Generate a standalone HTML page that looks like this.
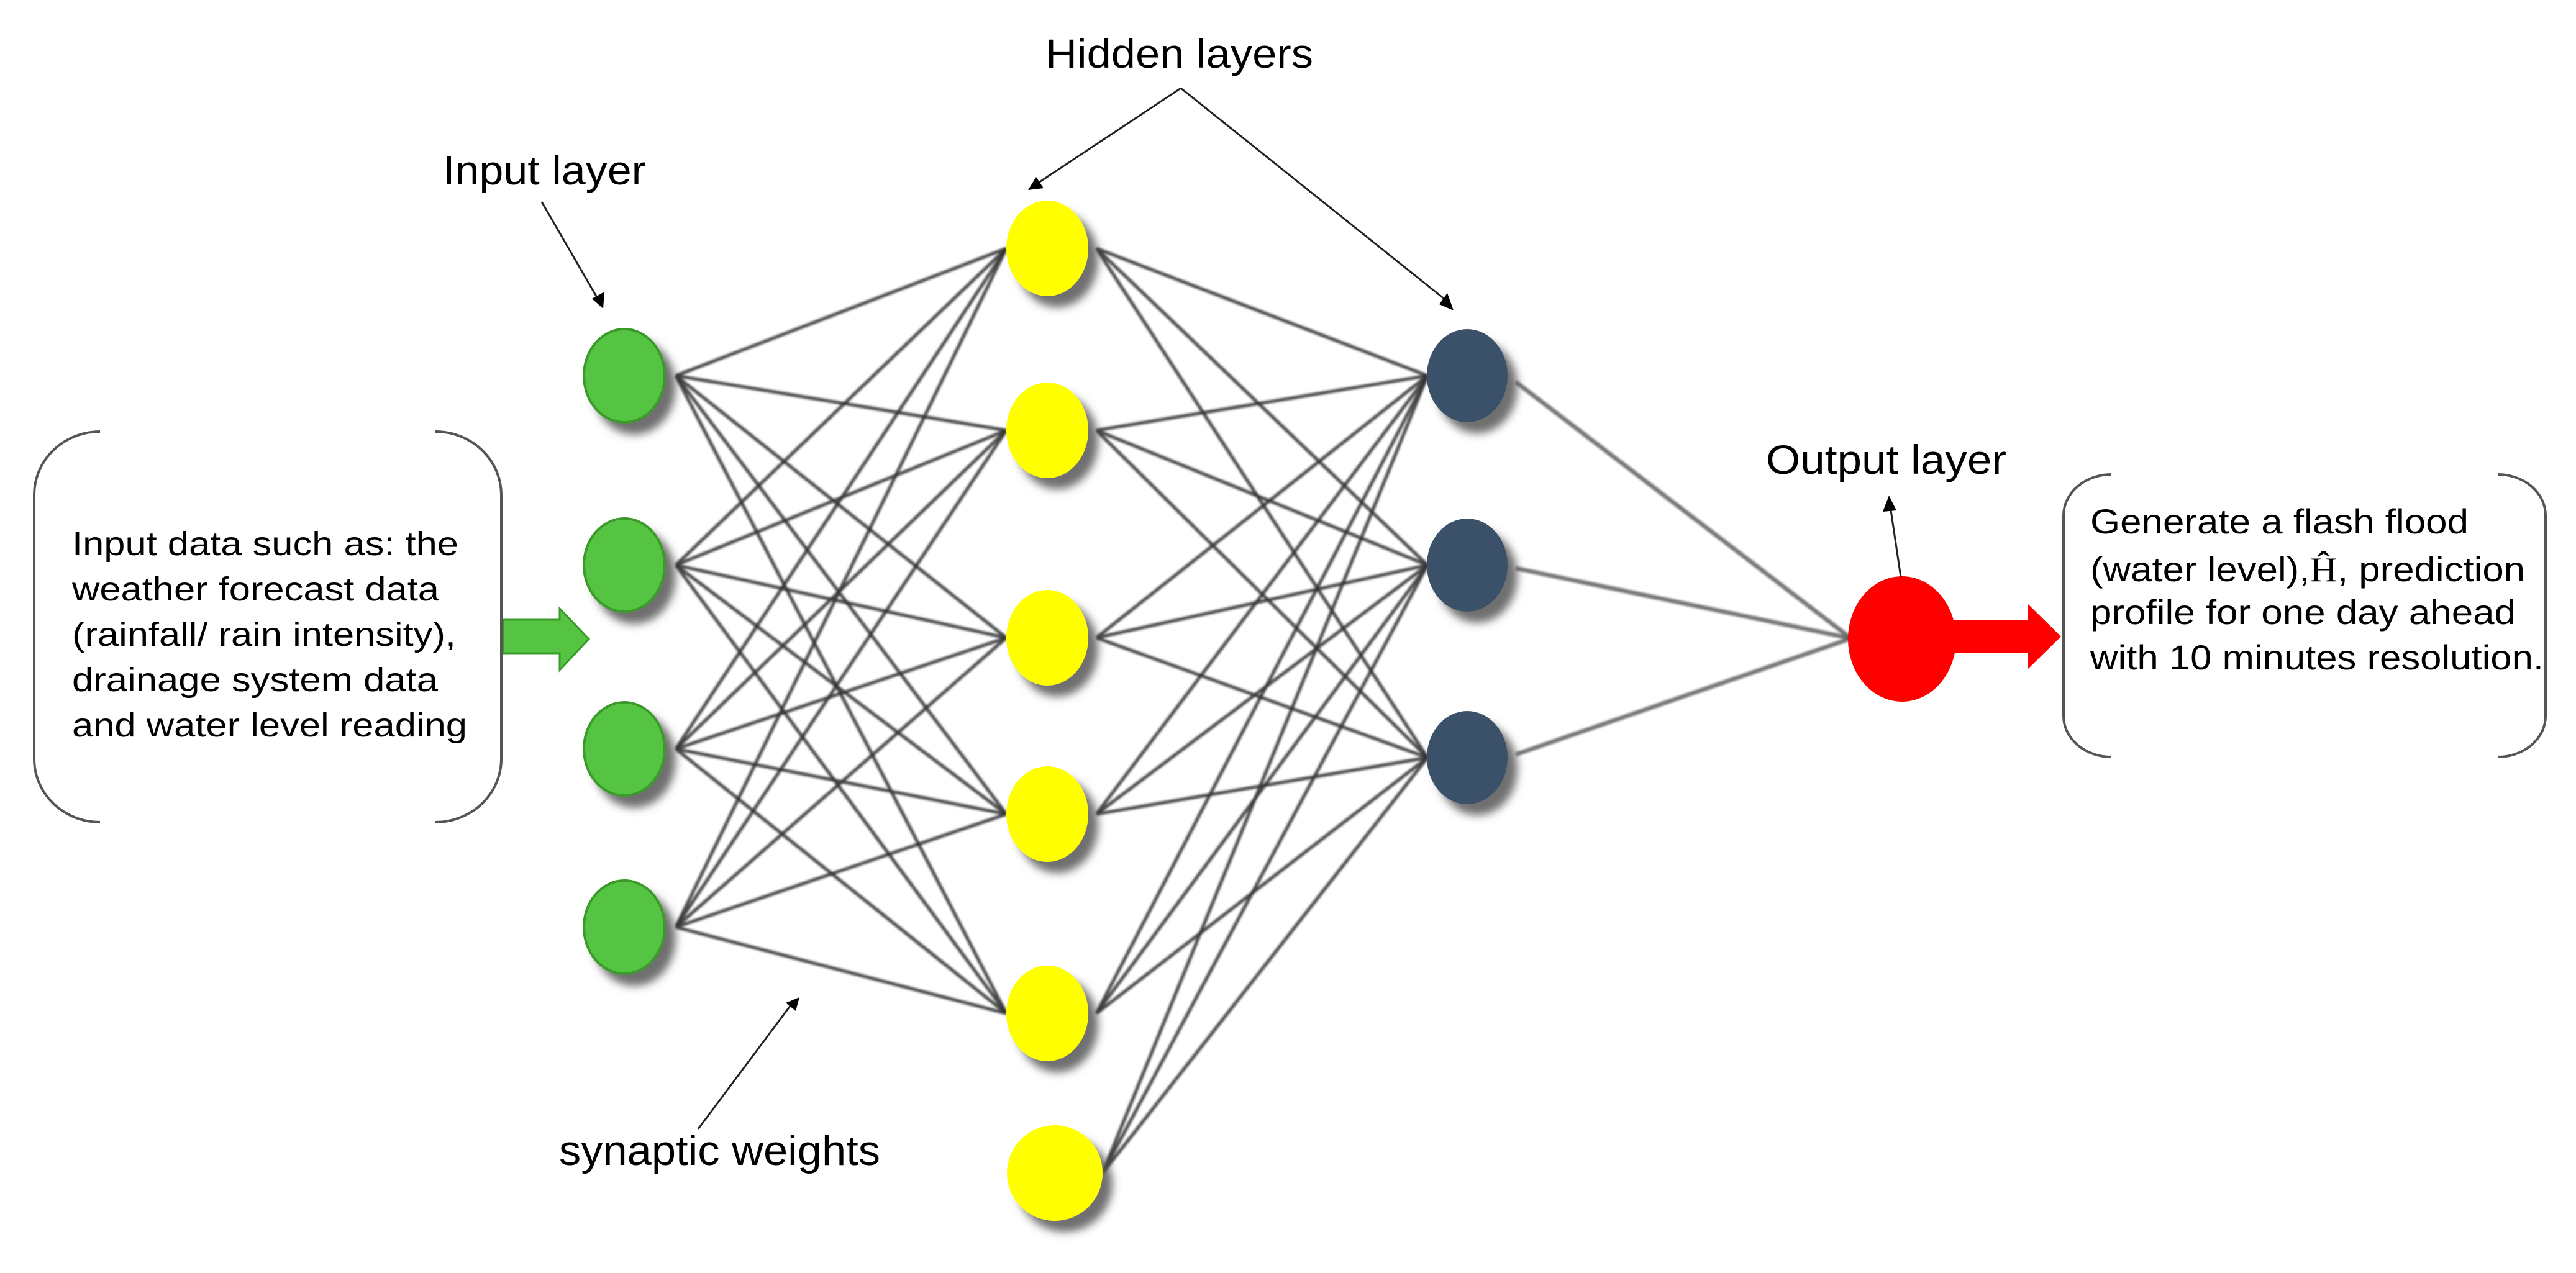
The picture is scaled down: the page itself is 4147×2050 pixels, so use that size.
<!DOCTYPE html>
<html><head><meta charset="utf-8"><style>
html,body{margin:0;padding:0;background:#fff;}
svg{display:block;}
text{font-family:"Liberation Sans",Arial,sans-serif;fill:#000;}
</style></head><body>
<svg width="4147" height="2050" viewBox="0 0 4147 2050" xmlns="http://www.w3.org/2000/svg">
<defs>
<filter id="sh" x="-50%" y="-50%" width="200%" height="200%">
<feDropShadow dx="16" dy="18" stdDeviation="7" flood-color="#555" flood-opacity="0.85"/>
</filter>
<filter id="bl" x="-5%" y="-5%" width="110%" height="110%"><feGaussianBlur stdDeviation="1.6"/></filter>
</defs>
<rect width="4147" height="2050" fill="#fff"/>

<g stroke="#333" stroke-width="5.5" stroke-opacity="0.85" fill="none" filter="url(#bl)">
<line x1="1088" y1="605" x2="1620" y2="400"/><line x1="1088" y1="605" x2="1620" y2="693"/><line x1="1088" y1="605" x2="1620" y2="1027"/><line x1="1088" y1="605" x2="1620" y2="1311"/><line x1="1088" y1="605" x2="1620" y2="1632"/>
<line x1="1088" y1="910" x2="1620" y2="400"/><line x1="1088" y1="910" x2="1620" y2="693"/><line x1="1088" y1="910" x2="1620" y2="1027"/><line x1="1088" y1="910" x2="1620" y2="1311"/><line x1="1088" y1="910" x2="1620" y2="1632"/>
<line x1="1088" y1="1206" x2="1620" y2="400"/><line x1="1088" y1="1206" x2="1620" y2="693"/><line x1="1088" y1="1206" x2="1620" y2="1027"/><line x1="1088" y1="1206" x2="1620" y2="1311"/><line x1="1088" y1="1206" x2="1620" y2="1632"/>
<line x1="1088" y1="1493" x2="1620" y2="400"/><line x1="1088" y1="1493" x2="1620" y2="693"/><line x1="1088" y1="1493" x2="1620" y2="1027"/><line x1="1088" y1="1493" x2="1620" y2="1311"/><line x1="1088" y1="1493" x2="1620" y2="1632"/>
<line x1="1765" y1="400" x2="2298" y2="605"/><line x1="1765" y1="400" x2="2298" y2="910"/><line x1="1765" y1="400" x2="2298" y2="1220"/>
<line x1="1765" y1="693" x2="2298" y2="605"/><line x1="1765" y1="693" x2="2298" y2="910"/><line x1="1765" y1="693" x2="2298" y2="1220"/>
<line x1="1765" y1="1027" x2="2298" y2="605"/><line x1="1765" y1="1027" x2="2298" y2="910"/><line x1="1765" y1="1027" x2="2298" y2="1220"/>
<line x1="1765" y1="1311" x2="2298" y2="605"/><line x1="1765" y1="1311" x2="2298" y2="910"/><line x1="1765" y1="1311" x2="2298" y2="1220"/>
<line x1="1765" y1="1632" x2="2298" y2="605"/><line x1="1765" y1="1632" x2="2298" y2="910"/><line x1="1765" y1="1632" x2="2298" y2="1220"/>
<line x1="1775" y1="1889" x2="2298" y2="605"/><line x1="1775" y1="1889" x2="2298" y2="910"/><line x1="1775" y1="1889" x2="2298" y2="1220"/>
</g>
<g stroke="#555" stroke-width="7" stroke-opacity="0.8" fill="none" filter="url(#bl)">
<line x1="2440" y1="615" x2="2980" y2="1028"/><line x1="2440" y1="915" x2="2980" y2="1028"/><line x1="2440" y1="1215" x2="2980" y2="1028"/>
</g>

<g filter="url(#sh)">
<ellipse cx="1005" cy="605" rx="65" ry="75" fill="#55c443" stroke="#3a9a2a" stroke-width="4"/>
<ellipse cx="1005" cy="910" rx="65" ry="75" fill="#55c443" stroke="#3a9a2a" stroke-width="4"/>
<ellipse cx="1005" cy="1206" rx="65" ry="75" fill="#55c443" stroke="#3a9a2a" stroke-width="4"/>
<ellipse cx="1005" cy="1493" rx="65" ry="75" fill="#55c443" stroke="#3a9a2a" stroke-width="4"/>
<ellipse cx="1686" cy="400" rx="66" ry="77" fill="#ffff00"/>
<ellipse cx="1686" cy="693" rx="66" ry="77" fill="#ffff00"/>
<ellipse cx="1686" cy="1027" rx="66" ry="77" fill="#ffff00"/>
<ellipse cx="1686" cy="1311" rx="66" ry="77" fill="#ffff00"/>
<ellipse cx="1686" cy="1632" rx="66" ry="77" fill="#ffff00"/>
<ellipse cx="1698" cy="1889" rx="77" ry="77" fill="#ffff00"/>
<ellipse cx="2362" cy="605" rx="65" ry="75" fill="#3a5169"/>
<ellipse cx="2362" cy="910" rx="65" ry="75" fill="#3a5169"/>
<ellipse cx="2362" cy="1220" rx="65" ry="75" fill="#3a5169"/>
</g>
<ellipse cx="3062" cy="1029" rx="87" ry="101" fill="#ff0000"/>
<polygon points="3140,998 3265,998 3265,973 3318,1025 3265,1077 3265,1052 3140,1052" fill="#ff0000"/>

<polygon points="810,998 901,998 901,980 948,1029 901,1079 901,1052 810,1052" fill="#55c443" stroke="#3a9a2a" stroke-width="3"/>

<g fill="none" stroke="#555" stroke-width="4">
<path d="M161,695 A106,102 0 0 0 55,797 L55,1222 A106,102 0 0 0 161,1324"/>
<path d="M701,695 A106,102 0 0 1 807,797 L807,1222 A106,102 0 0 1 701,1324"/>
<path d="M3399,764 A77,66 0 0 0 3322,830 L3322,1153 A77,66 0 0 0 3399,1219"/>
<path d="M4021,764 A77,66 0 0 1 4098,830 L4098,1153 A77,66 0 0 1 4021,1219"/>
</g>

<g stroke="#222" stroke-width="3" fill="#000">
<line x1="872" y1="325" x2="964" y2="484"/>
<polygon points="971,497 953,481 973,470" stroke="none"/>
<line x1="1901" y1="142" x2="1666" y2="298"/>
<polygon points="1655,306 1668,285 1680,303" stroke="none"/>
<line x1="1901" y1="142" x2="2331" y2="486"/>
<polygon points="2340,500 2317,490 2330,472" stroke="none"/>
<line x1="3060" y1="929" x2="3043" y2="815"/>
<polygon points="3041,798 3031,824 3053,822" stroke="none"/>
<line x1="1124" y1="1818" x2="1272" y2="1620"/>
<polygon points="1287,1606 1265,1615 1281,1628" stroke="none"/>
</g>

<text x="1683" y="109" font-size="66" textLength="431" lengthAdjust="spacingAndGlyphs">Hidden layers</text>
<text x="713" y="297" font-size="66" textLength="327" lengthAdjust="spacingAndGlyphs">Input layer</text>
<text x="2843" y="763" font-size="66" textLength="387" lengthAdjust="spacingAndGlyphs">Output layer</text>
<text x="900" y="1876" font-size="68" textLength="517" lengthAdjust="spacingAndGlyphs">synaptic weights</text>

<g font-size="54">
<text x="116" y="894" textLength="622" lengthAdjust="spacingAndGlyphs">Input data such as: the</text>
<text x="116" y="967" textLength="591" lengthAdjust="spacingAndGlyphs">weather forecast data</text>
<text x="116" y="1040" textLength="618" lengthAdjust="spacingAndGlyphs">(rainfall/ rain intensity),</text>
<text x="116" y="1113" textLength="589" lengthAdjust="spacingAndGlyphs">drainage system data</text>
<text x="116" y="1186" textLength="636" lengthAdjust="spacingAndGlyphs">and water level reading</text>
</g>
<g font-size="56">
<text x="3365" y="859" textLength="609" lengthAdjust="spacingAndGlyphs">Generate a flash flood</text>
<text x="3365" y="936" textLength="700" lengthAdjust="spacingAndGlyphs">(water level),<tspan font-family="Liberation Serif, serif">Ĥ</tspan>, prediction</text>
<text x="3365" y="1005" textLength="685" lengthAdjust="spacingAndGlyphs">profile for one day ahead</text>
<text x="3365" y="1078" textLength="730" lengthAdjust="spacingAndGlyphs">with 10 minutes resolution.</text>
</g>
</svg>
</body></html>
